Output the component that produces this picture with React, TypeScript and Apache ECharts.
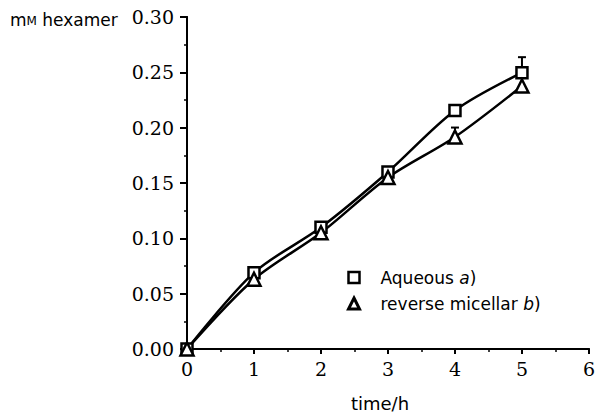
import React, { useEffect, useRef } from "react";
import * as echarts from "echarts";

const times = [0, 1, 2, 3, 4, 5];
const aqueous = [0, 0.069, 0.11, 0.16, 0.2155, 0.2497];
const micellar = [0, 0.063, 0.105, 0.155, 0.1916, 0.2376];
const aqueousErr = [0, 0, 0, 0, 0, 0.014];
const micellarErr = [0, 0, 0, 0, 0.0085, 0];
const seriesNames = ["Aqueous", "reverse micellar"];

const serif = "DejaVu Serif";
const sans = "DejaVu Sans";

function errData(vals: number[], errs: number[]) {
  const out: number[][] = [];
  times.forEach((t, i) => {
    if (errs[i] > 0) out.push([t, vals[i], vals[i] + errs[i]]);
  });
  return out;
}

const renderErr = (params: any, api: any) => {
  const x = api.value(0);
  const y = api.value(1);
  const hi = api.value(2);
  const p0 = api.coord([x, y]);
  const p1 = api.coord([x, hi]);
  return {
    type: "group",
    children: [
      { type: "line", shape: { x1: p0[0], y1: p0[1], x2: p1[0], y2: p1[1] }, style: { stroke: "#000", lineWidth: 2 } },
      { type: "line", shape: { x1: p1[0] - 4, y1: p1[1], x2: p1[0] + 4, y2: p1[1] }, style: { stroke: "#000", lineWidth: 2 } },
    ],
  };
};

export default function App() {
  const ref = useRef<HTMLDivElement>(null);
  useEffect(() => {
    document.body.style.margin = "0";
    const chart = echarts.init(ref.current!, null, { renderer: "svg" });
    const axisLine = { show: true, lineStyle: { color: "#000", width: 2 } };
    chart.setOption({
      animation: false,
      backgroundColor: "#fff",
      grid: { left: 187, right: 7, top: 17, bottom: 64 },
      xAxis: [
        {
          type: "value",
          min: 0,
          max: 6,
          interval: 1,
          axisLine,
          axisTick: { show: true, length: 5, lineStyle: { color: "#000", width: 2 } },
          minorTick: { show: true, splitNumber: 2, length: 3, lineStyle: { color: "#000", width: 1.5 } },
          splitLine: { show: false },
          axisLabel: { color: "#000", fontFamily: serif, fontSize: 19, margin: 10 },
        },
        {
          type: "value",
          position: "top",
          min: 0,
          max: 6,
          interval: 1,
          axisLine,
          axisTick: { show: false },
          axisLabel: { show: false },
          splitLine: { show: false },
        },
      ],
      yAxis: [
        {
          type: "value",
          min: 0,
          max: 0.3,
          interval: 0.05,
          axisLine,
          axisTick: { show: true, length: 7, lineStyle: { color: "#000", width: 2 } },
          minorTick: { show: true, splitNumber: 2, length: 3, lineStyle: { color: "#000", width: 1.5 } },
          splitLine: { show: false },
          axisLabel: {
            color: "#000",
            fontFamily: serif,
            fontSize: 19,
            margin: 13,
            formatter: (v: number) => v.toFixed(2),
          },
        },
        {
          type: "value",
          position: "right",
          min: 0,
          max: 0.3,
          interval: 0.05,
          axisLine,
          axisTick: { show: false },
          axisLabel: { show: false },
          splitLine: { show: false },
        },
      ],
      legend: {
        orient: "vertical",
        left: 342,
        top: 264,
        itemWidth: 11,
        itemHeight: 11,
        itemGap: 9,
        data: [
          { name: seriesNames[0], icon: "rect", itemStyle: { color: "#fff", borderColor: "#000", borderWidth: 2.5 } },
          { name: seriesNames[1], icon: "triangle", itemStyle: { color: "#fff", borderColor: "#000", borderWidth: 3 } },
        ],
        formatter: (name: string) => (name === seriesNames[0] ? name + " {i|a})" : name + " {i|b})"),
        textStyle: {
          color: "#000",
          fontFamily: sans,
          fontSize: 17,
          padding: [0, 0, 0, 16],
          rich: { i: { fontStyle: "italic", fontFamily: sans, fontSize: 17, color: "#000" } },
        },
      },
      graphic: [
        {
          type: "text",
          left: 10,
          top: 11,
          style: {
            text: "m{s|M} hexamer",
            fontFamily: sans,
            fontSize: 17,
            fill: "#000",
            rich: { s: { fontSize: 12, fontFamily: sans, fill: "#000", verticalAlign: "bottom", padding: [0, 0, 1, 0] } },
          },
        },
        {
          type: "text",
          x: 380,
          y: 403,
          style: { text: "time/h", fontFamily: sans, fontSize: 18, fill: "#000", align: "center", verticalAlign: "middle" },
        },
      ],
      series: [
        {
          name: seriesNames[0],
          type: "custom",
          renderItem: renderErr,
          data: errData(aqueous, aqueousErr),
          z: 1,
          silent: true,
        },
        {
          name: seriesNames[1],
          type: "custom",
          renderItem: renderErr,
          data: errData(micellar, micellarErr),
          z: 1,
          silent: true,
        },
        {
          name: seriesNames[0],
          type: "line",
          smooth: 0.3,
          data: times.map((t, i) => [t, aqueous[i]]),
          symbol: "rect",
          symbolSize: 11,
          lineStyle: { color: "#000", width: 2.5 },
          itemStyle: { color: "#fff", borderColor: "#000", borderWidth: 2.5 },
          z: 3,
        },
        {
          name: seriesNames[1],
          type: "line",
          smooth: 0.3,
          data: times.map((t, i) => [t, micellar[i]]),
          symbol: "triangle",
          symbolSize: 13,
          lineStyle: { color: "#000", width: 2.5 },
          itemStyle: { color: "#fff", borderColor: "#000", borderWidth: 2.5 },
          z: 3,
        },
      ],
    });
    return () => chart.dispose();
  }, []);
  return <div ref={ref} style={{ width: 598, height: 413 }} />;
}
